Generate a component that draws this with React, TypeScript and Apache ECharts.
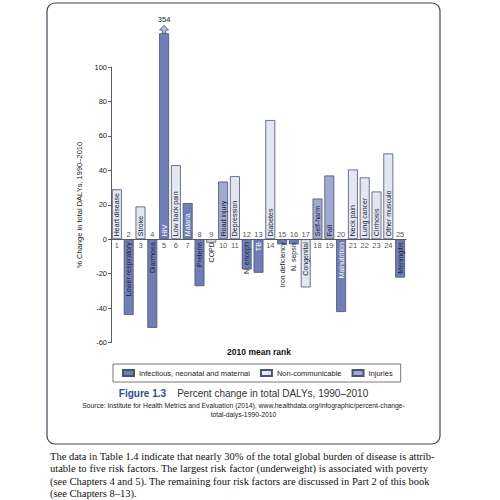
import React, { useEffect, useRef } from "react";
import * as echarts from "echarts";

const categories = [
  "Heart disease", "Lower respiratory", "Stroke", "Diarrhoea", "HIV",
  "Low back pain", "Malaria", "Preterm", "COPD", "Road injury",
  "Depression", "N. enceph", "TB", "Diabetes", "Iron deficiency",
  "N. sepsis", "Congenital", "Self-harm", "Fall", "Malnutrition",
  "Neck pain", "Lung cancer", "Cirrhosis", "Other musculo", "Meningitis",
];
const ranks = [
  "1", "2", "3", "4", "5", "6", "7", "8", "9", "10", "11", "12", "13",
  "14", "15", "16", "17", "18", "19", "20", "21", "22", "23", "24", "25",
];
const changes = [
  29, -44, 19, -51.5, 354, 43, 21, -27.3, -2, 33.5, 36.6, -17.5, -19.5,
  69.2, -3, -3, -28, 23.6, 37, -42.3, 40.5, 35.9, 27.7, 49.8, -22.3,
];
// I = infectious, neonatal and maternal; N = non-communicable; J = injuries
const groups = [
  "N", "I", "N", "I", "I", "N", "I", "I", "N", "J", "N", "I", "I",
  "N", "I", "I", "N", "J", "J", "I", "N", "N", "N", "N", "I",
];
const groupNames = ["Infectious, neonatal and maternal", "Non-communicable", "Injuries"];
const groupKeys = ["I", "N", "J"];
const yTicks = { min: -60, max: 100, interval: 20 };
const BREAK_AT = 119.6; // value where the off-scale HIV bar is cut
const lightText = ["HIV", "Malaria", "TB", "Malnutrition"];

const bodyLines = [
  "The data in Table 1.4 indicate that nearly 30% of the total global burden of disease is attrib-",
  "utable to five risk factors. The largest risk factor (underweight) is associated with poverty",
  "(see Chapters 4 and 5). The remaining four risk factors are discussed in Part 2 of this book",
  "(see Chapters 8\u201313).",
];

const COLORS: Record<string, string> = { I: "#6f7eb5", N: "#e3e7f1", J: "#a0a9cf" };
const BORDER = "#4a5370";
const FONT = "'Liberation Sans', Arial, sans-serif";

function barLabel(v: number, name: string) {
  const color = lightText.includes(name) ? "#ffffff" : "#1b2033";
  return v >= 0
    ? { show: true, position: "insideBottom", distance: 3, rotate: 90, align: "left", verticalAlign: "middle", color, fontSize: 7, fontFamily: FONT }
    : { show: true, position: "insideTop", distance: 3, rotate: 90, align: "right", verticalAlign: "middle", color, fontSize: 7, fontFamily: FONT };
}

function buildOption() {
  const barSeries = groupKeys.map((g, gi) => ({
    type: "bar",
    name: groupNames[gi],
    barGap: "-100%",
    barCategoryGap: "16%",
    clip: false,
    itemStyle: { color: COLORS[g], borderColor: BORDER, borderWidth: 0.8 },
    label: { formatter: "{b}" },
    data: changes.map((v, i) =>
      groups[i] === g
        ? { value: Math.min(v, BREAK_AT), label: barLabel(v, categories[i]) }
        : null
    ),
  }));

  const breakSeries = {
    type: "scatter",
    name: "off-scale",
    silent: true,
    clip: false,
    z: 3,
    symbol: "path://M5,0 L10,6 L7,6 L7,10 L3,10 L3,6 L0,6 Z",
    symbolSize: [9, 8],
    symbolOffset: [0, -4],
    itemStyle: { color: "#b4bddf", borderColor: BORDER, borderWidth: 0.8, opacity: 1 },
    data: changes.map((v) =>
      v > BREAK_AT
        ? {
            value: BREAK_AT,
            label: {
              show: true,
              position: "top",
              distance: 1,
              formatter: String(v),
              color: "#222",
              fontSize: 7.5,
              fontFamily: FONT,
            },
          }
        : "-"
    ),
  };

  const rankSeries = {
    type: "scatter",
    name: "rank",
    silent: true,
    symbolSize: 0.01,
    itemStyle: { color: "transparent" },
    data: changes.map((v, i) => ({
      value: 0,
      label: {
        show: true,
        position: v >= 0 ? "bottom" : "top",
        distance: v >= 0 ? 2 : 1,
        formatter: ranks[i],
        color: "#222",
        fontSize: 7.5,
        fontFamily: FONT,
      },
    })),
  };

  return {
    animation: false,
    backgroundColor: "#ffffff",
    textStyle: { fontFamily: FONT },
    grid: { left: 111, right: 94, top: 67, bottom: 157.5 },
    legend: {
      data: groupNames,
      left: 113,
      top: 364,
      itemWidth: 11,
      itemHeight: 6,
      itemGap: 10,
      padding: [5, 8, 5, 9],
      borderColor: "#555",
      borderWidth: 0.8,
      icon: "rect",
      textStyle: { fontSize: 7.5, color: "#222", fontFamily: FONT },
    },
    xAxis: {
      type: "category",
      data: categories,
      axisLine: { onZero: true, lineStyle: { color: "#333", width: 0.8 } },
      axisTick: { show: false },
      axisLabel: { show: false },
      splitLine: { show: false },
    },
    yAxis: {
      type: "value",
      min: yTicks.min,
      max: yTicks.max,
      interval: yTicks.interval,
      name: "% Change in total DALYs, 1990\u20132010",
      nameLocation: "middle",
      nameGap: 16,
      nameTextStyle: { fontSize: 7.5, color: "#222", fontFamily: FONT },
      axisLine: { show: true, onZero: false, lineStyle: { color: "#333", width: 0.8 } },
      axisTick: { show: true, length: 3, lineStyle: { color: "#333", width: 0.8 } },
      axisLabel: { fontSize: 7.5, color: "#222", margin: 4, fontFamily: FONT },
      splitLine: { show: false },
    },
    graphic: [
      {
        type: "rect",
        shape: { x: 47, y: 3, width: 393, height: 441, r: 8 },
        style: { fill: "none", stroke: "#3c4657", lineWidth: 1.2 },
        silent: true,
        z: -1,
      },
      {
        type: "text",
        x: 259,
        y: 352,
        style: {
          text: "2010 mean rank",
          fontSize: 8.5,
          fontWeight: "bold",
          fontFamily: FONT,
          fill: "#111",
          textAlign: "center",
          textVerticalAlign: "middle",
        },
      },
      {
        type: "text",
        x: 243.5,
        y: 393,
        style: {
          text: "{b|Figure 1.3}    {n|Percent change in total DALYs, 1990\u20132010}",
          textAlign: "center",
          textVerticalAlign: "middle",
          fontFamily: FONT,
          fontSize: 10,
          rich: {
            b: { fontWeight: "bold", fill: "#2d4b8c", fontSize: 10, fontFamily: FONT },
            n: { fill: "#333", fontSize: 10, fontFamily: FONT },
          },
        },
      },
      {
        type: "text",
        x: 243.5,
        y: 405,
        style: {
          text: "Source: Institute for Health Metrics and Evaluation (2014), www.healthdata.org/infographic/percent-change-",
          textAlign: "center",
          textVerticalAlign: "middle",
          fontFamily: FONT,
          fontSize: 6.8,
          fill: "#222",
        },
      },
      {
        type: "text",
        x: 243.5,
        y: 414,
        style: {
          text: "total-dalys-1990-2010",
          textAlign: "center",
          textVerticalAlign: "middle",
          fontFamily: FONT,
          fontSize: 6.8,
          fill: "#222",
        },
      },
    ],
    series: [...barSeries, breakSeries, rankSeries],
  };
}

export default function App() {
  const ref = useRef<HTMLDivElement>(null);
  useEffect(() => {
    if (!ref.current) return;
    const chart = echarts.init(ref.current, null, { renderer: "svg" });
    chart.setOption(buildOption() as any);
    return () => chart.dispose();
  }, []);
  return (
    <div style={{ position: "absolute", left: 0, top: 0, width: 500, height: 500, background: "#fff", overflow: "hidden" }}>
      <div ref={ref} style={{ position: "absolute", left: 0, top: 0, width: 500, height: 500 }} />
      <div
        style={{
          position: "absolute",
          left: 50,
          top: 451,
          width: 378,
          fontFamily: "'Liberation Serif', 'Times New Roman', serif",
          fontSize: 10.5,
          lineHeight: "12.3px",
          color: "#111",
        }}
      >
        {bodyLines.map((l, i) => {
          const last = i === bodyLines.length - 1;
          return (
            <div
              key={i}
              style={{
                whiteSpace: "nowrap",
                textAlign: last ? "left" : "justify",
                textAlignLast: last ? "left" : "justify",
              }}
            >
              {l}
            </div>
          );
        })}
      </div>
    </div>
  );
}
